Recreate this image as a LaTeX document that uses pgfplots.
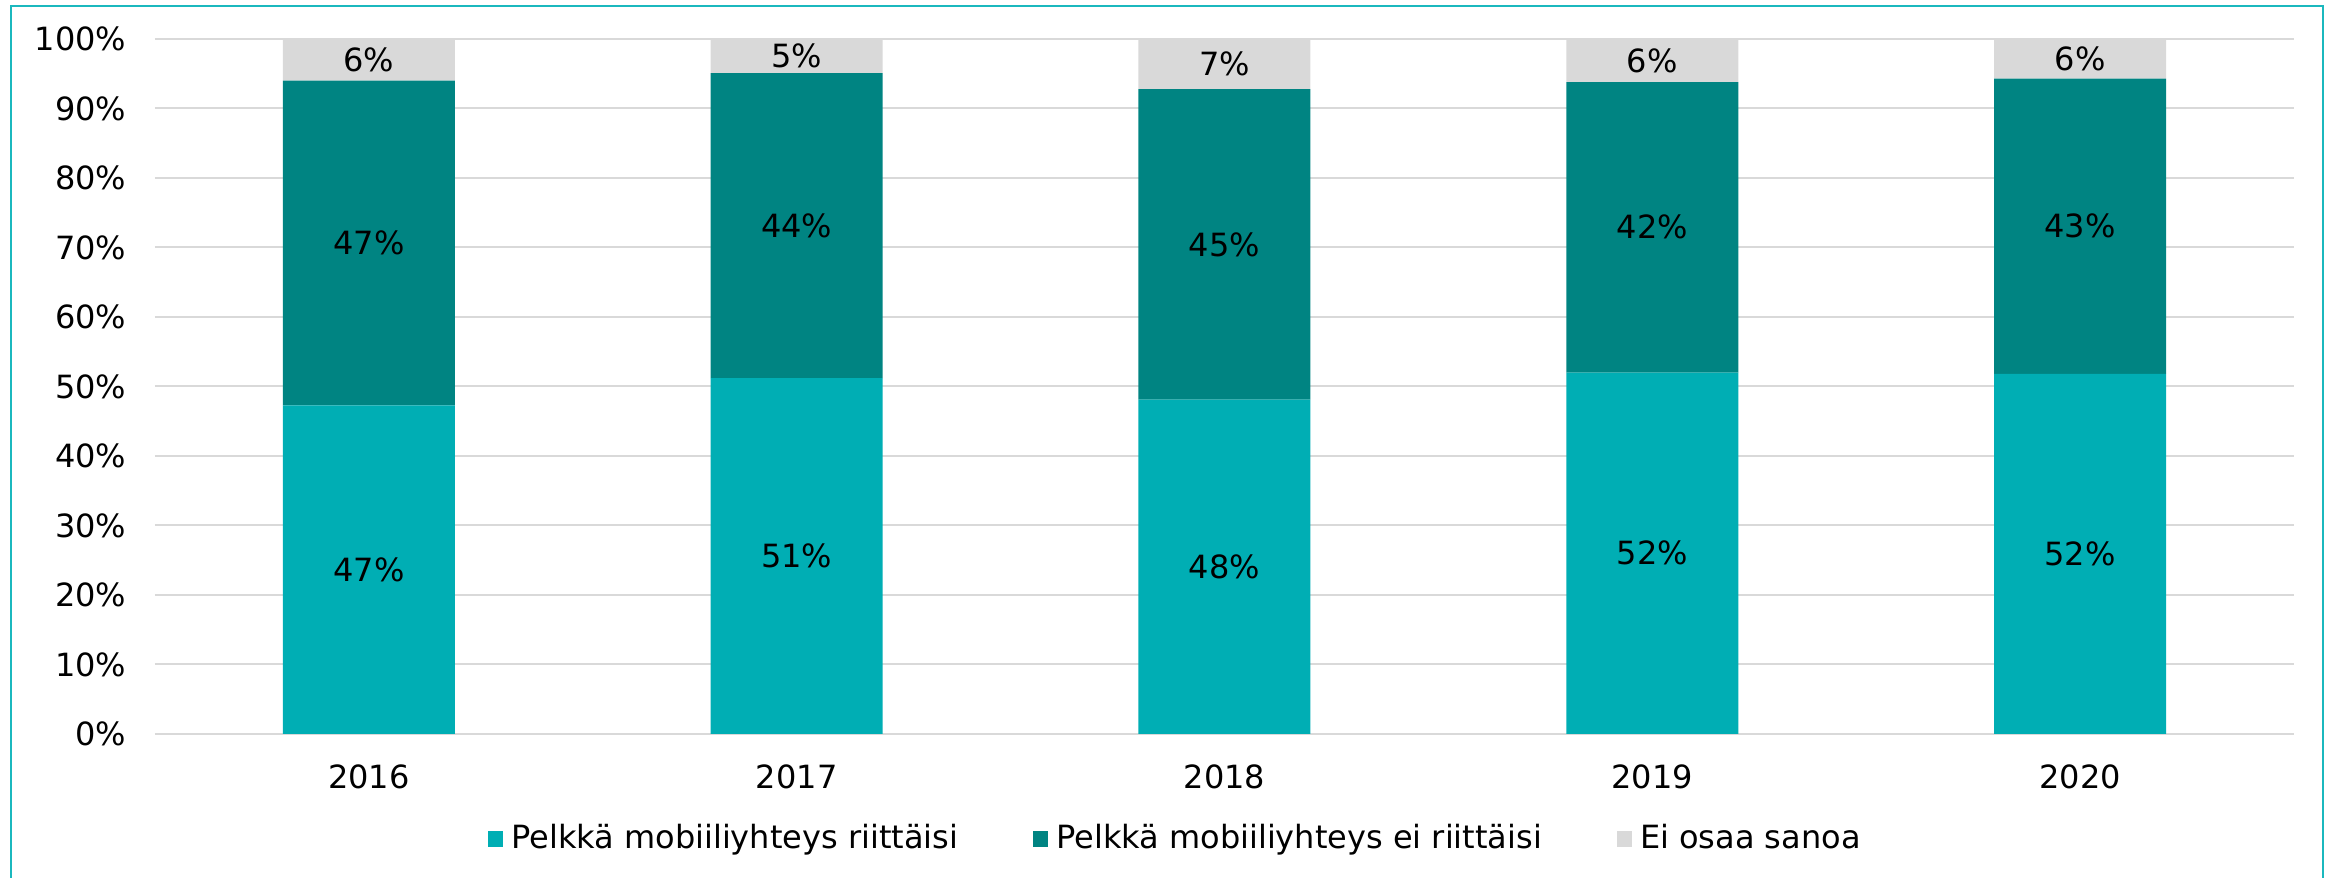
\documentclass[border=0pt]{standalone}
\usepackage{pgfplots}
\pgfplotsset{compat=1.18}
\usepackage{pgfplotstable}
\usepackage{fontspec}
\setmainfont{DejaVu Sans}
\definecolor{lteal}{HTML}{00AEB4}
\definecolor{dteal}{HTML}{008482}
\definecolor{lgrey}{HTML}{D9D9D9}
\definecolor{framec}{HTML}{1BB8BE}
\definecolor{gridc}{HTML}{D9D9D9}
\pgfplotstableread{
x y label
0 47.3 47
1 51.2 51
2 48.1 48
3 52.0 52
4 51.8 52
}\serA
\pgfplotstableread{
x y label
0 46.7 47
1 43.9 44
2 44.7 45
3 41.8 42
4 42.5 43
}\serB
\pgfplotstableread{
x y label
0 6.0 6
1 4.9 5
2 7.2 7
3 6.2 6
4 5.7 6
}\serC
\begin{document}
\fontsize{8}{9.6}\selectfont
\begin{tikzpicture}
\useasboundingbox (-38.75pt,-36pt) rectangle (545.25pt,183.5pt);
\draw[framec, line width=0.6pt] (-36pt,-45pt) rectangle (542pt,182pt);
\begin{axis}[
  at={(0,0)}, anchor=south west,
  width=534.75pt, height=173.75pt, scale only axis,
  ybar stacked, bar width=43pt,
  xmin=-0.5, xmax=4.5, ymin=0, ymax=100,
  xtick={0,1,2,3,4},
  xticklabels={2016,2017,2018,2019,2020},
  ytick={0,10,...,100},
  yticklabels={0\%,10\%,20\%,30\%,40\%,50\%,60\%,70\%,80\%,90\%,100\%},
  ymajorgrids, grid style={gridc, line width=0.5pt},
  axis line style={draw=none},
  tick style={draw=none},
  tick label style={font=\fontsize{8}{9.6}\selectfont, text=black},
  yticklabel style={inner sep=0pt, xshift=-7pt},
  xticklabel style={inner sep=0pt, yshift=-7.6pt},
  point meta=explicit symbolic,
  nodes near coords={\pgfplotspointmeta\%},
  every node near coord/.append style={font=\fontsize{8}{9.6}\selectfont, text=black, anchor=center},
  legend style={at={(0.4785,-0.151)}, anchor=center, draw=none, fill=none,
    font=\fontsize{8}{9.6}\selectfont, legend columns=3,
    /tikz/every even column/.append style={column sep=16.75pt},
    inner sep=0pt},
  legend image code/.code={\fill[#1] (-1.5pt,-1.9pt) rectangle (2.25pt,1.9pt);},
]
\addplot[fill=lteal, draw=none] table[x=x, y=y, meta=label] {\serA};
\addplot[fill=dteal, draw=none] table[x=x, y=y, meta=label] {\serB};
\addplot[fill=lgrey, draw=none] table[x=x, y=y, meta=label] {\serC};
\legend{Pelkkä mobiiliyhteys riittäisi, Pelkkä mobiiliyhteys ei riittäisi, Ei osaa sanoa}
\end{axis}
\end{tikzpicture}
\end{document}
